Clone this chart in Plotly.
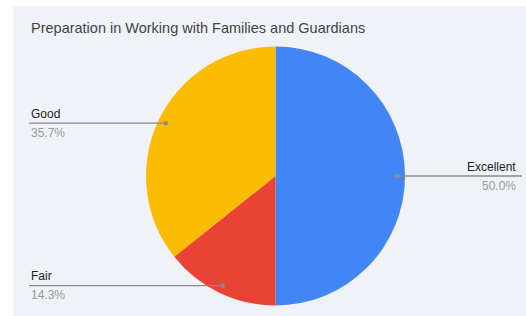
import math
import plotly.graph_objects as go

# Data
categories = ["Excellent", "Fair", "Good"]
counts = [7, 2, 5]
colors = ["#4285F4", "#EA4335", "#FBBC04"]
title_text = "Preparation in Working with Families and Guardians"

W, H = 526, 316
cx, cy, R = 275.5, 176, 129.5  # pie centre / radius in px

fig = go.Figure(go.Pie(
    labels=categories,
    values=counts,
    marker=dict(colors=colors, line=dict(color="#EFF3F8", width=0)),
    sort=False,
    direction="clockwise",
    rotation=0,
    textinfo="none",
    hoverinfo="label+percent",
    domain=dict(x=[(cx - R) / W, (cx + R) / W], y=[1 - (cy + R) / H, 1 - (cy - R) / H]),
    showlegend=False,
))

shapes = [dict(type="rect", xref="paper", yref="paper", x0=13 / W, x1=1, y0=0, y1=1 - 6 / H,
               fillcolor="#EFF3F8", line=dict(width=0), layer="below")]
annotations = [dict(text=title_text, xref="paper", yref="paper", x=29 / W, y=1 - 28 / H,
                    xanchor="left", yanchor="middle", showarrow=False,
                    font=dict(family="Liberation Sans, Arial", size=14.5, color="#444444"))]

total = sum(counts)
cum = 0
for lab, v in zip(categories, counts):
    frac = v / total
    mid = (cum + frac / 2) * 2 * math.pi
    cum += frac
    dx = cx + 0.94 * R * math.sin(mid)
    dy = cy - 0.94 * R * math.cos(mid)
    right = math.sin(mid) > 0
    xe = 522 if right else 29
    px = lambda x: x / W
    py = lambda y: 1 - y / H
    shapes.append(dict(type="line", xref="paper", yref="paper", x0=px(dx), x1=px(xe),
                       y0=py(dy), y1=py(dy), line=dict(color="#8a8a8a", width=1.3)))
    shapes.append(dict(type="circle", xref="paper", yref="paper", x0=px(dx - 2.3), x1=px(dx + 2.3),
                       y0=py(dy + 2.3), y1=py(dy - 2.3), fillcolor="#8a8a8a", line=dict(width=0)))
    anchor = "right" if right else "left"
    tx = 518 if right else 29
    annotations.append(dict(text=lab, xref="paper", yref="paper", x=px(tx), y=py(dy - 0.5),
                            xanchor=anchor, yanchor="bottom", showarrow=False,
                            font=dict(family="Liberation Sans, Arial", size=12, color="#222222")))
    annotations.append(dict(text=f"{frac * 100:.1f}%", xref="paper", yref="paper", x=px(tx), y=py(dy + 0.5),
                            xanchor=anchor, yanchor="top", showarrow=False,
                            font=dict(family="Liberation Sans, Arial", size=12, color="#9a9a9a")))

fig.update_layout(
    width=W, height=H,
    margin=dict(l=0, r=0, t=0, b=0),
    paper_bgcolor="white",
    shapes=shapes,
    annotations=annotations,
)

fig.write_html("out.html", config={"displayModeBar": False},
               post_script="document.body.style.margin='0';document.body.style.overflow='hidden';")
